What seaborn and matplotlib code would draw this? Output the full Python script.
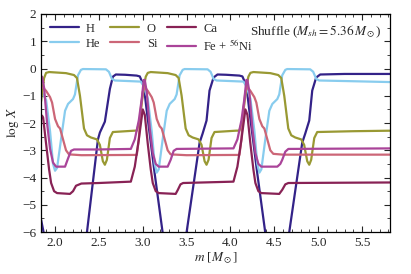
import matplotlib
matplotlib.use("Agg")
import matplotlib.pyplot as plt
import seaborn as sns
import pandas as pd
from matplotlib.ticker import MultipleLocator

# ---- data ----
species = ["H", "He", "O", "Si", "Ca", r"Fe + $^{56}$Ni"]
colors = ["#332288", "#88CCEE", "#999933", "#CC6677", "#882255", "#AA4499"]

H_m = [1.841, 1.875, 1.92, 2.0, 2.25, 2.309, 2.364, 2.489, 2.511, 2.568, 2.625, 2.659, 2.693, 2.80, 2.93,
       2.966, 3.011, 3.045, 3.136, 3.227, 3.29, 3.35, 3.40, 3.445, 3.5, 3.648, 3.682, 3.727, 3.761, 3.807,
       3.852, 3.95, 4.102, 4.136, 4.181, 4.215, 4.306, 4.397, 4.46, 4.52, 4.56, 4.615, 4.67, 4.818, 4.852,
       4.898, 4.932, 4.977, 5.023, 5.3, 5.85]
H_v = [-5.55, -6.1, -7.3, -9, -9, -7.5, -6.0, -2.6, -2.35, -1.95, -0.75, -0.3, -0.22, -0.23, -0.26,
       -0.29, -0.63, -1.54, -3.86, -6.03, -7.5, -9, -9, -7.5, -6.0, -2.72, -2.39, -1.91, -0.81, -0.33,
       -0.22, -0.23, -0.26, -0.29, -0.63, -1.54, -3.86, -6.03, -7.5, -9, -9, -7.5, -6.0, -2.72, -2.39,
       -1.91, -0.81, -0.33, -0.22, -0.2, -0.2]

He_m = [1.841, 1.864, 1.898, 1.943, 1.977, 2.0, 2.023, 2.068, 2.114, 2.148, 2.205, 2.227, 2.261, 2.295,
        2.318, 2.58, 2.614, 2.648, 2.682,
        2.977, 3.011, 3.057, 3.102, 3.136, 3.159, 3.182, 3.227, 3.273, 3.307, 3.364, 3.386, 3.420, 3.455,
        3.477, 3.739, 3.773, 3.807, 3.841,
        4.148, 4.181, 4.227, 4.273, 4.306, 4.33, 4.352, 4.397, 4.443, 4.477, 4.534, 4.556, 4.59, 4.625,
        4.647, 4.909, 4.943, 4.977, 5.011, 5.3, 5.85]
He_v = [-0.85, -0.95, -1.15, -2.3, -3.5, -3.75, -3.65, -2.6, -1.55, -1.3, -1.12, -0.95, -0.25, -0.05,
        -0.02, -0.03, -0.12, -0.38, -0.44,
        -0.48, -0.65, -1.1, -2.3, -3.5, -3.82, -3.7, -2.6, -1.55, -1.3, -1.12, -0.95, -0.25, -0.05,
        -0.02, -0.03, -0.12, -0.38, -0.44,
        -0.48, -0.65, -1.1, -2.3, -3.5, -3.82, -3.7, -2.6, -1.55, -1.3, -1.12, -0.95, -0.25, -0.05,
        -0.02, -0.03, -0.12, -0.38, -0.44, -0.46, -0.5]

O_m = [1.841, 1.852, 1.875, 1.898, 1.932, 2.125, 2.216, 2.25, 2.284, 2.330, 2.364, 2.409, 2.477, 2.511,
       2.545, 2.568, 2.591, 2.625, 2.659, 2.909,
       2.932, 2.966, 2.989, 3.011, 3.034, 3.057, 3.091, 3.284, 3.375, 3.409, 3.443, 3.489, 3.523, 3.568,
       3.636, 3.670, 3.705, 3.727, 3.75, 3.784, 3.818, 4.068,
       4.102, 4.136, 4.159, 4.181, 4.204, 4.227, 4.261, 4.454, 4.545, 4.579, 4.613, 4.659, 4.693, 4.738,
       4.806, 4.84, 4.875, 4.898, 4.920, 4.955, 4.989, 5.4, 5.85]
O_v = [-1.2, -0.9, -0.35, -0.16, -0.13, -0.17, -0.24, -0.35, -1.0, -2.2, -2.45, -2.53, -2.6, -2.8,
       -3.4, -3.53, -3.35, -2.55, -2.33, -2.28,
       -2.28, -1.9, -1.25, -0.7, -0.3, -0.16, -0.13, -0.17, -0.24, -0.35, -1.0, -2.2, -2.45, -2.53,
       -2.6, -2.8, -3.4, -3.53, -3.35, -2.55, -2.33, -2.28,
       -2.28, -1.9, -1.25, -0.7, -0.3, -0.16, -0.13, -0.17, -0.24, -0.35, -1.0, -2.2, -2.45, -2.53,
       -2.6, -2.8, -3.4, -3.53, -3.35, -2.55, -2.33, -2.3, -2.28]

Si_m = [1.841, 1.864, 1.898, 1.943, 1.966, 2.0, 2.034, 2.057, 2.091, 2.125, 2.159, 2.3,
        2.932, 2.955, 2.977, 3.0, 3.023, 3.057, 3.102, 3.125, 3.159, 3.193, 3.216, 3.25, 3.284, 3.318, 3.5,
        4.102, 4.125, 4.148, 4.17, 4.193, 4.227, 4.272, 4.295, 4.329, 4.363, 4.386, 4.42, 4.454, 4.488,
        4.6, 5.85]
Si_v = [-0.72, -0.7, -0.82, -1.05, -1.25, -1.85, -2.12, -2.2, -2.6, -3.0, -3.15, -3.18,
        -3.17, -2.6, -1.5, -0.85, -0.68, -0.82, -1.05, -1.25, -1.85, -2.12, -2.2, -2.6, -3.0, -3.15, -3.18,
        -3.17, -2.6, -1.5, -0.85, -0.68, -0.82, -1.05, -1.25, -1.85, -2.12, -2.2, -2.6, -3.0, -3.13,
        -3.16, -3.16]

Ca_m = [1.841, 1.852, 1.864, 1.898, 1.932, 1.955, 1.989, 2.023, 2.170, 2.205, 2.239, 2.3, 2.5,
        2.864, 2.909, 2.955, 3.0, 3.023, 3.057, 3.091, 3.114, 3.148, 3.182, 3.375, 3.40, 3.43, 3.46,
        4.034, 4.079, 4.125, 4.17, 4.193, 4.227, 4.261, 4.284, 4.318, 4.352, 4.556, 4.59, 4.625, 4.66, 5.85]
Ca_v = [-1.85, -1.73, -1.8, -2.76, -3.7, -4.2, -4.5, -4.57, -4.6, -4.5, -4.3, -4.22, -4.2,
        -4.15, -3.6, -2.6, -1.5, -1.7, -2.76, -3.7, -4.2, -4.5, -4.57, -4.6, -4.45, -4.25, -4.2,
        -4.15, -3.6, -2.6, -1.5, -1.7, -2.76, -3.7, -4.2, -4.5, -4.57, -4.6, -4.45, -4.25, -4.2, -4.18]

Fe_m = [1.841, 1.852, 1.875, 1.909, 1.943, 1.977, 2.011, 2.114, 2.148, 2.182, 2.216, 2.5,
        2.864, 2.909, 2.955, 2.989, 3.011, 3.023, 3.045, 3.080, 3.114, 3.148, 3.182, 3.284, 3.318, 3.352, 3.386,
        4.034, 4.079, 4.125, 4.159, 4.181, 4.193, 4.215, 4.25, 4.284, 4.318, 4.352, 4.534, 4.568, 4.59,
        4.625, 4.66, 5.85]
Fe_v = [-0.28, -0.3, -0.7, -2.0, -2.95, -3.45, -3.6, -3.6, -3.3, -3.02, -2.97, -2.97,
        -2.95, -2.6, -1.9, -1.1, -0.42, -0.42, -0.85, -2.2, -3.1, -3.5, -3.6, -3.6, -3.35, -3.02, -2.95,
        -2.93, -2.6, -1.9, -1.1, -0.42, -0.42, -0.85, -2.2, -3.1, -3.5, -3.6, -3.6, -3.5, -3.35,
        -3.05, -2.95, -2.93]

xs = [H_m, He_m, O_m, Si_m, Ca_m, Fe_m]
ys = [H_v, He_v, O_v, Si_v, Ca_v, Fe_v]

# ---- style ----
sns.set_style("ticks")
plt.rcParams["font.family"] = ["Liberation Serif", "DejaVu Serif"]
plt.rcParams["mathtext.fontset"] = "stix"
plt.rcParams["font.size"] = 9

fig = plt.figure(figsize=(4.11, 2.74), dpi=100)
ax = fig.add_axes([0.0998, 0.153, 0.8494, 0.796])

for name, col, mx, vy in zip(species, colors, xs, ys):
    df = pd.DataFrame({"m": mx, "logX": vy})
    sns.lineplot(data=df, x="m", y="logX", color=col, label=name, lw=1.6,
                 estimator=None, sort=False, ax=ax)

ax.set_xlim(1.84, 5.82)
ax.set_ylim(-6, 2)
ax.xaxis.set_major_locator(MultipleLocator(0.5))
ax.xaxis.set_minor_locator(MultipleLocator(0.1))
ax.yaxis.set_major_locator(MultipleLocator(1))
ax.yaxis.set_minor_locator(MultipleLocator(0.5))
ax.tick_params(which="both", direction="in", top=True, right=True, labelsize=9.5)
ax.tick_params(which="major", length=4, width=0.8)
ax.tick_params(which="minor", length=2, width=0.6)
for s in ax.spines.values():
    s.set_linewidth(0.9)
    s.set_color("black")

ax.set_xlabel(r"$m$ [$M_\odot$]", fontsize=9.5, labelpad=1)
ax.set_ylabel(r"$\log\,X$", fontsize=9.5, labelpad=1)

ax.legend(ncol=3, loc="upper left", frameon=False, fontsize=9, handlelength=2.3,
          columnspacing=0.8, handletextpad=0.6, labelspacing=0.25, borderaxespad=0.3)
ax.text(0.975, 0.955, r"Shuffle ($M_{sh} = 5.36\,M_\odot$)", transform=ax.transAxes,
        ha="right", va="top", fontsize=9.5)

fig.savefig("out.png", dpi=100)
